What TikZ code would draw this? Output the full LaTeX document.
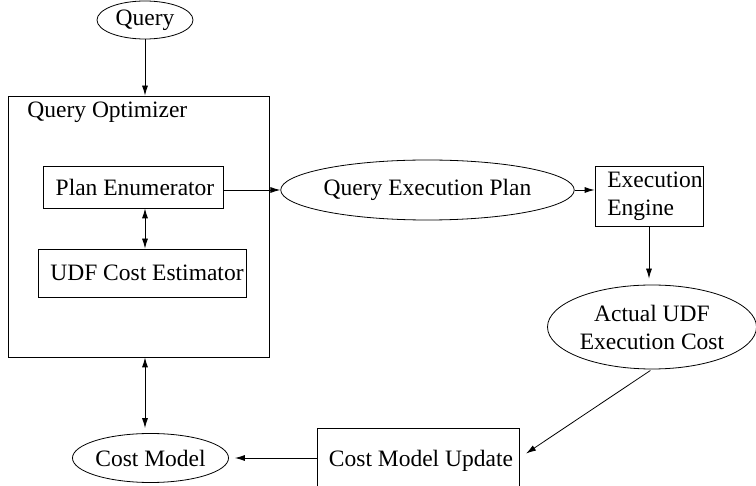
\documentclass[tikz,border=0pt]{standalone}
\usepackage{fontspec}
\setmainfont{Liberation Serif}
\usetikzlibrary{shapes.geometric,arrows.meta}
\begin{document}
\begin{tikzpicture}[x=1pt, y=-1pt, line width=.8pt,
	txt/.style={font=\fontsize{23.5}{28}\selectfont, inner sep=0pt},
	box/.style={txt, draw, align=left},
	oval/.style={txt, draw, ellipse, align=center},
	arr/.style={-{Latex[length=10pt,width=6pt]}},
	darr/.style={{Latex[length=10pt,width=6pt]}-{Latex[length=10pt,width=6pt]}}]
	\useasboundingbox (0,0) rectangle (756,486);
	\node[oval, minimum width=96, minimum height=38]  (query) at (145,20)    {Query};
	\node[draw, minimum width=261, minimum height=261] (qo) at (138.5,226.5) {};
	\node[txt, anchor=west]                           (qolbl) at (27,112)   {Query Optimizer};
	\node[box, minimum width=180, minimum height=42]  (pe)  at (133,187)    {\hspace*{4pt}Plan Enumerator};
	\node[box, minimum width=208, minimum height=48]  (udf) at (142,273)    {\hspace*{10pt}UDF Cost Estimator};
	\node[oval, minimum width=231, minimum height=60] (qep) at (427.5,190)  {Query Execution Plan};
	\node[box, minimum width=108, minimum height=60]  (ee)  at (649,196)    {\hspace*{12pt}Execution\\\hspace*{12pt}Engine};
	\node[oval, minimum width=209, minimum height=84] (act) at (652,327)    {Actual UDF\\Execution Cost};
	\node[box, minimum width=202, minimum height=66]  (cmu) at (418,461)    {\hspace*{6pt}Cost Model Update};
	\node[oval, minimum width=143, minimum height=49] (cm)  at (150.5,458)  {Cost Model};
	% connectors
	\draw[arr]  (query.south) -- (query.south |- qo.north);
	\draw[darr] (pe.south -| query.south) -- (udf.north -| query.south);
	\draw[arr]  (pe.east |- qep.west) -- (qep.west);
	\draw[arr]  (qep.east) -- (ee.west |- qep.east);
	\draw[arr, shorten >=6pt] (ee.south) -- (ee.south |- act.north);
	\draw[arr, shorten <=2pt, shorten >=8pt] (act.south) -- (cmu.east |- cm.east);
	\draw[arr, shorten >=6pt] (cmu.west |- cm.east) -- (cm.east);
	\draw[darr, shorten >=5pt] (qo.south -| query.south) -- (cm.north -| query.south);
\end{tikzpicture}
\end{document}
